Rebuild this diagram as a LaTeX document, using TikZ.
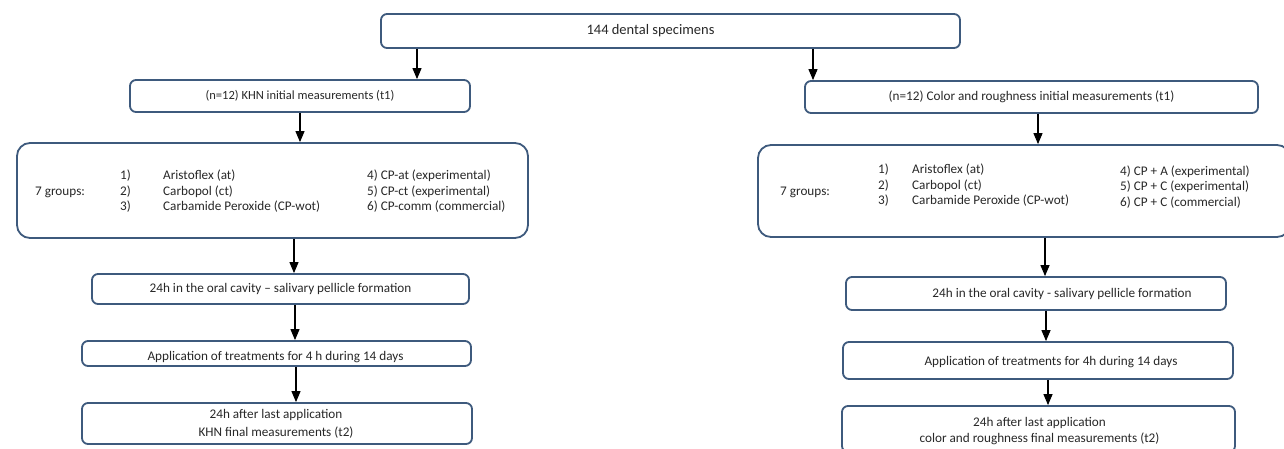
\documentclass[tikz,border=0pt]{standalone}
\usepackage{fontspec}
\setmainfont{Carlito}
\usetikzlibrary{arrows.meta}
\definecolor{boxc}{RGB}{62,90,125}
\definecolor{txt}{RGB}{40,40,40}
\begin{document}
\begin{tikzpicture}[x=1pt,y=-1pt,
  box/.style={draw=boxc,line width=1.8pt,rounded corners=6pt,fill=white,inner sep=0pt,text=txt,font=\fontsize{13.2}{15}\selectfont},
  bigbox/.style={box,rounded corners=13pt},
  lbl/.style={inner sep=0pt,text=txt,font=\fontsize{13.2}{15.5}\selectfont,align=left},
  arr/.style={line width=1.1pt,-{Triangle[width=9pt,length=11pt]}}]
\useasboundingbox (0,0) rectangle (1284,448);
\fill[white] (0,0) rectangle (1284,448);
% top
\node[box,minimum width=579pt,minimum height=34pt,label={[lbl,font=\fontsize{14.5}{16}\selectfont,xshift=-20pt]center:144 dental specimens}] (top) at (670.5,31) {};
% left column
\node[box,minimum width=340pt,minimum height=32pt,font=\fontsize{12.5}{15}\selectfont] (kin) at (300,96) {(n=12) KHN initial measurements (t1)};
\node[bigbox,minimum width=511pt,minimum height=95pt] (kgrp) at (272.5,190.5) {};
\node[lbl,anchor=west] (kg7) at (35,192) {7 groups:};
\node[lbl,anchor=west] (kgn) at (120,191.5) {1)\\2)\\3)};
\node[lbl,anchor=west] (kgi) at (163,191.5) {Aristoflex (at)\\Carbopol (ct)\\Carbamide Peroxide (CP-wot)};
\node[lbl,anchor=west] (kgj) at (367,191.5) {4) CP-at (experimental)\\5) CP-ct (experimental)\\6) CP-comm (commercial)};
\node[box,minimum width=377pt,minimum height=30pt] (k24) at (280.5,289) {24h in the oral cavity -- salivary pellicle formation};
\node[box,minimum width=389pt,minimum height=25pt,label={[lbl,xshift=-1pt,yshift=-4pt]center:Application of treatments for 4 h during 14 days}] (kapp) at (276.5,353.5) {};
\node[box,minimum width=390pt,minimum height=41pt,label={[lbl,align=center,font=\fontsize{13.2}{18}\selectfont,xshift=-1pt]center:24h after last application\\KHN final measurements (t2)}] (kfin) at (277,423.5) {};
% right column
\node[box,minimum width=453pt,minimum height=32pt] (cin) at (1031.5,97) {(n=12) Color and roughness initial measurements (t1)};
\node[bigbox,minimum width=532pt,minimum height=92pt] (cgrp) at (1024,191) {};
\node[lbl,anchor=west] (cg7) at (780,192) {7 groups:};
\node[lbl,anchor=west] (cgn) at (878,185.5) {1)\\2)\\3)};
\node[lbl,anchor=west] (cgi) at (912,185.5) {Aristoflex (at)\\Carbopol (ct)\\Carbamide Peroxide (CP-wot)};
\node[lbl,anchor=west] (cgj) at (1120,187) {4) CP + A (experimental)\\5) CP + C (experimental)\\6) CP + C (commercial)};
\node[box,minimum width=380pt,minimum height=33pt,label={[lbl,xshift=26pt]center:24h in the oral cavity - salivary pellicle formation}] (r24) at (1036,293.5) {};
\node[box,minimum width=390pt,minimum height=37pt,label={[lbl,xshift=13pt,yshift=-2pt]center:Application of treatments for 4h during 14 days}] (rapp) at (1038,360.5) {};
\node[box,minimum width=393pt,minimum height=46pt,label={[lbl,align=center,font=\fontsize{13.2}{16}\selectfont,xshift=1pt,yshift=-2pt]center:24h after last application\\color and roughness final measurements (t2)}] (rfin) at (1038.5,429) {};
% arrows
\draw[arr] (top.south -| 417,0) -- (kin.north -| 417,0);
\draw[arr] (top.south -| 813,0) -- (cin.north -| 813,0);
\draw[arr] (kin.south) -- (kgrp.north -| kin.south);
\draw[arr] (kgrp.south -| 294,0) -- (k24.north -| 294,0);
\draw[arr] (k24.south -| 295,0) -- (kapp.north -| 295,0);
\draw[arr] (kapp.south -| 296,0) -- (kfin.north -| 296,0);
\draw[arr] (cin.south -| 1038,0) -- (cgrp.north -| 1038,0);
\draw[arr] (cgrp.south -| 1045,0) -- (r24.north -| 1045,0);
\draw[arr] (r24.south -| 1046,0) -- (rapp.north -| 1046,0);
\draw[arr] (rapp.south -| 1048,0) -- (rfin.north -| 1048,0);
\end{tikzpicture}
\end{document}
